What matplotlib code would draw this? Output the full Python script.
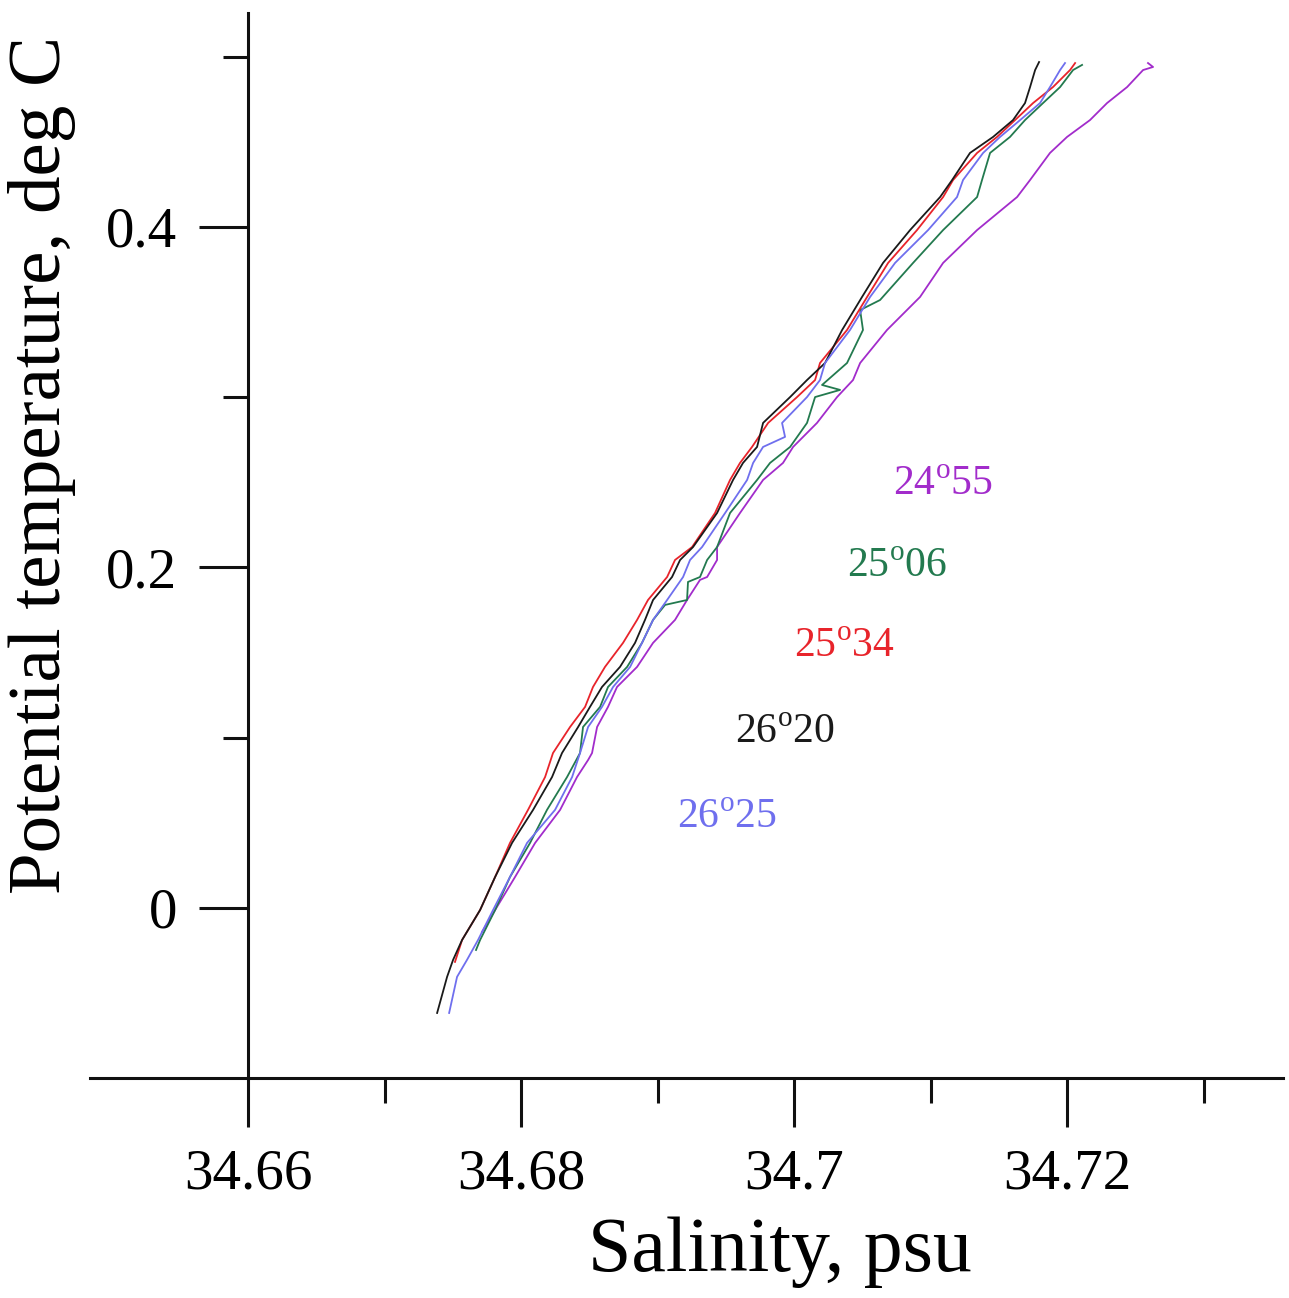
import matplotlib
matplotlib.use("Agg")
import matplotlib.pyplot as plt

plt.rcParams["font.family"] = ["Liberation Serif", "DejaVu Serif"]
plt.rcParams["mathtext.fontset"] = "custom"
plt.rcParams["mathtext.rm"] = "Liberation Serif"

# station 26°20 (black)
sal_2620 = [34.67385, 34.67458, 34.67502, 34.67568, 34.67700, 34.67810, 34.67934, 34.68088,
            34.68227, 34.68300, 34.68418, 34.68505, 34.68593, 34.68725, 34.68835, 34.68908,
            34.68967, 34.69106, 34.69165, 34.69260, 34.69436, 34.69553, 34.69626, 34.69729,
            34.69773, 34.69971, 34.70095, 34.70227, 34.70352, 34.70498, 34.70652, 34.70850,
            34.71070, 34.71158, 34.71289, 34.71458, 34.71604, 34.71692, 34.71729, 34.71766,
            34.71795]
temp_2620 = [-0.0617, -0.0405, -0.0305, -0.0188, -0.0012, 0.0182, 0.0382, 0.0576,
             0.0769, 0.0910, 0.1063, 0.1181, 0.1298, 0.1416, 0.1557, 0.1692,
             0.1809, 0.1944, 0.2044, 0.2120, 0.2320, 0.2514, 0.2614, 0.2708,
             0.2849, 0.3001, 0.3101, 0.3201, 0.3395, 0.3589, 0.3789, 0.3982,
             0.4176, 0.4276, 0.4435, 0.4529, 0.4628, 0.4728, 0.4822, 0.4922,
             0.4969]

# station 25°34 (red)
sal_2534 = [34.67516, 34.67568, 34.67700, 34.67810, 34.67919, 34.68051, 34.68176, 34.68234,
            34.68359, 34.68469, 34.68527, 34.68615, 34.68747, 34.68850, 34.68930, 34.69070,
            34.69128, 34.69253, 34.69421, 34.69531, 34.69604, 34.69692, 34.69810, 34.70022,
            34.70154, 34.70190, 34.70388, 34.70535, 34.70689, 34.70901, 34.71092, 34.71165,
            34.71341, 34.71487, 34.71619, 34.71751, 34.71897, 34.72022, 34.72059]
temp_2534 = [-0.0317, -0.0188, -0.0012, 0.0182, 0.0382, 0.0576, 0.0769, 0.0910,
             0.1063, 0.1181, 0.1298, 0.1416, 0.1557, 0.1692, 0.1809, 0.1944,
             0.2044, 0.2120, 0.2320, 0.2514, 0.2614, 0.2708, 0.2849, 0.3001,
             0.3101, 0.3201, 0.3395, 0.3589, 0.3789, 0.3982, 0.4176, 0.4276,
             0.4435, 0.4529, 0.4628, 0.4728, 0.4822, 0.4922, 0.4963]

# station 26°25 (blue)
sal_2625 = [34.67473, 34.67531, 34.67604, 34.67685, 34.67795, 34.67919, 34.68044, 34.68249,
            34.68374, 34.68432, 34.68491, 34.68593, 34.68674, 34.68799, 34.68886, 34.68967,
            34.69070, 34.69187, 34.69238, 34.69326, 34.69495, 34.69656, 34.69700, 34.69773,
            34.69934, 34.69912, 34.70095, 34.70190, 34.70227, 34.70410, 34.70557, 34.70740,
            34.70982, 34.71194, 34.71238, 34.71385, 34.71509, 34.71656, 34.71802, 34.71875,
            34.71949, 34.71985]
temp_2625 = [-0.0617, -0.0405, -0.0305, -0.0188, -0.0012, 0.0182, 0.0382, 0.0576,
             0.0769, 0.0910, 0.1063, 0.1181, 0.1298, 0.1416, 0.1557, 0.1692,
             0.1809, 0.1944, 0.2044, 0.2120, 0.2320, 0.2514, 0.2614, 0.2708,
             0.2767, 0.2849, 0.3001, 0.3101, 0.3201, 0.3395, 0.3589, 0.3789,
             0.3982, 0.4176, 0.4276, 0.4435, 0.4529, 0.4628, 0.4728, 0.4822,
             0.4922, 0.4963]

# station 25°06 (green)
sal_2506 = [34.67670, 34.67700, 34.67810, 34.67919, 34.68066, 34.68190, 34.68337, 34.68432,
            34.68454, 34.68579, 34.68637, 34.68777, 34.68886, 34.68967, 34.69055, 34.69216,
            34.69223, 34.69311, 34.69363, 34.69436, 34.69531, 34.69729, 34.69824, 34.69971,
            34.70095, 34.70154, 34.70337, 34.70205, 34.70388, 34.70505, 34.70484, 34.70630,
            34.70872, 34.71092, 34.71341, 34.71377, 34.71436, 34.71582, 34.71692, 34.71824,
            34.71949, 34.72044, 34.72110]
temp_2506 = [-0.0247, -0.0188, -0.0012, 0.0182, 0.0382, 0.0576, 0.0769, 0.0910,
             0.1063, 0.1181, 0.1298, 0.1416, 0.1557, 0.1692, 0.1780, 0.1809,
             0.1915, 0.1944, 0.2044, 0.2120, 0.2320, 0.2514, 0.2614, 0.2708,
             0.2849, 0.3001, 0.3043, 0.3072, 0.3201, 0.3395, 0.3512, 0.3571,
             0.3789, 0.3982, 0.4176, 0.4276, 0.4435, 0.4529, 0.4628, 0.4728,
             0.4822, 0.4922, 0.4952]

# station 24°55 (purple)
sal_2455 = [34.67714, 34.67810, 34.67956, 34.68103, 34.68286, 34.68410, 34.68491, 34.68520,
            34.68557, 34.68637, 34.68703, 34.68850, 34.68967, 34.69128, 34.69216, 34.69311,
            34.69363, 34.69436, 34.69436, 34.69604, 34.69773, 34.69919, 34.69993, 34.70168,
            34.70315, 34.70432, 34.70484, 34.70681, 34.70923, 34.71092, 34.71341, 34.71634,
            34.71729, 34.71875, 34.72000, 34.72168, 34.72293, 34.72440, 34.72557, 34.72630,
            34.72593]
temp_2455 = [-0.0141, -0.0012, 0.0182, 0.0382, 0.0576, 0.0769, 0.0869, 0.0910,
             0.1063, 0.1181, 0.1298, 0.1416, 0.1557, 0.1692, 0.1809, 0.1927,
             0.1944, 0.2044, 0.2120, 0.2320, 0.2514, 0.2614, 0.2708, 0.2849,
             0.3001, 0.3101, 0.3201, 0.3395, 0.3589, 0.3789, 0.3982, 0.4176,
             0.4276, 0.4435, 0.4529, 0.4628, 0.4728, 0.4822, 0.4922, 0.4940,
             0.4963]

stations = ["24$^{\\mathrm{o}}$55", "25$^{\\mathrm{o}}$06", "25$^{\\mathrm{o}}$34",
            "26$^{\\mathrm{o}}$20", "26$^{\\mathrm{o}}$25"]
label_sal = [34.7109, 34.70755, 34.70366, 34.69934, 34.69509]
label_temp = [0.2485, 0.2003, 0.1533, 0.1028, 0.0529]
colors = ["#a22ccb", "#237a4f", "#e8242b", "#1a1a1a", "#6f6fee"]

xticks = [34.66, 34.68, 34.70, 34.72]
xticklabels = ["34.66", "34.68", "34.7", "34.72"]
xminor = [34.67, 34.69, 34.71, 34.73]
yticks = [0.0, 0.2, 0.4]
yticklabels = ["0", "0.2", "0.4"]
yminor = [0.1, 0.3, 0.5]

W, H = 1289, 1298
fig = plt.figure(figsize=(W / 100, H / 100), dpi=100)
ax = fig.add_axes([90 / W, (H - 1078) / H, (1283 - 90) / W, (1078 - 13) / H])

curves = [(sal_2455, temp_2455), (sal_2506, temp_2506), (sal_2534, temp_2534),
          (sal_2620, temp_2620), (sal_2625, temp_2625)]
for (s, t), c in zip(curves, colors):
    ax.plot(s, t, color=c, lw=1.3)

for txt, x, y, c in zip(stations, label_sal, label_temp, colors):
    ax.text(x, y, txt, color=c, fontsize=30, ha="center", va="center")

ax.set_xlim(34.64842, 34.73582)
ax.set_ylim(-0.0999, 0.5257)

ax.spines["top"].set_visible(False)
ax.spines["right"].set_visible(False)
ax.spines["left"].set_position(("data", 34.66))
for sp in ("left", "bottom"):
    ax.spines[sp].set_linewidth(2.2)
    ax.spines[sp].set_color("#111111")

ax.set_xticks(xticks)
ax.set_xticklabels(xticklabels)
ax.set_xticks(xminor, minor=True)
ax.set_yticks(yticks)
ax.set_yticklabels(yticklabels)
ax.set_yticks(yminor, minor=True)
ax.tick_params(which="major", direction="out", length=35, width=2.2,
               labelsize=41, pad=16, color="#111111")
ax.tick_params(which="minor", direction="out", length=18, width=2.2, color="#111111")

# axis titles placed as in the reference (not centred on the axes)
fig.text(780 / W, 1 - 1252 / H, "Salinity, psu", fontsize=56, ha="center", va="center")
fig.text(42 / W, 1 - 465 / H, "Potential temperature, deg C", fontsize=54,
         rotation=90, ha="center", va="center")

fig.savefig("out.png", dpi=100)
